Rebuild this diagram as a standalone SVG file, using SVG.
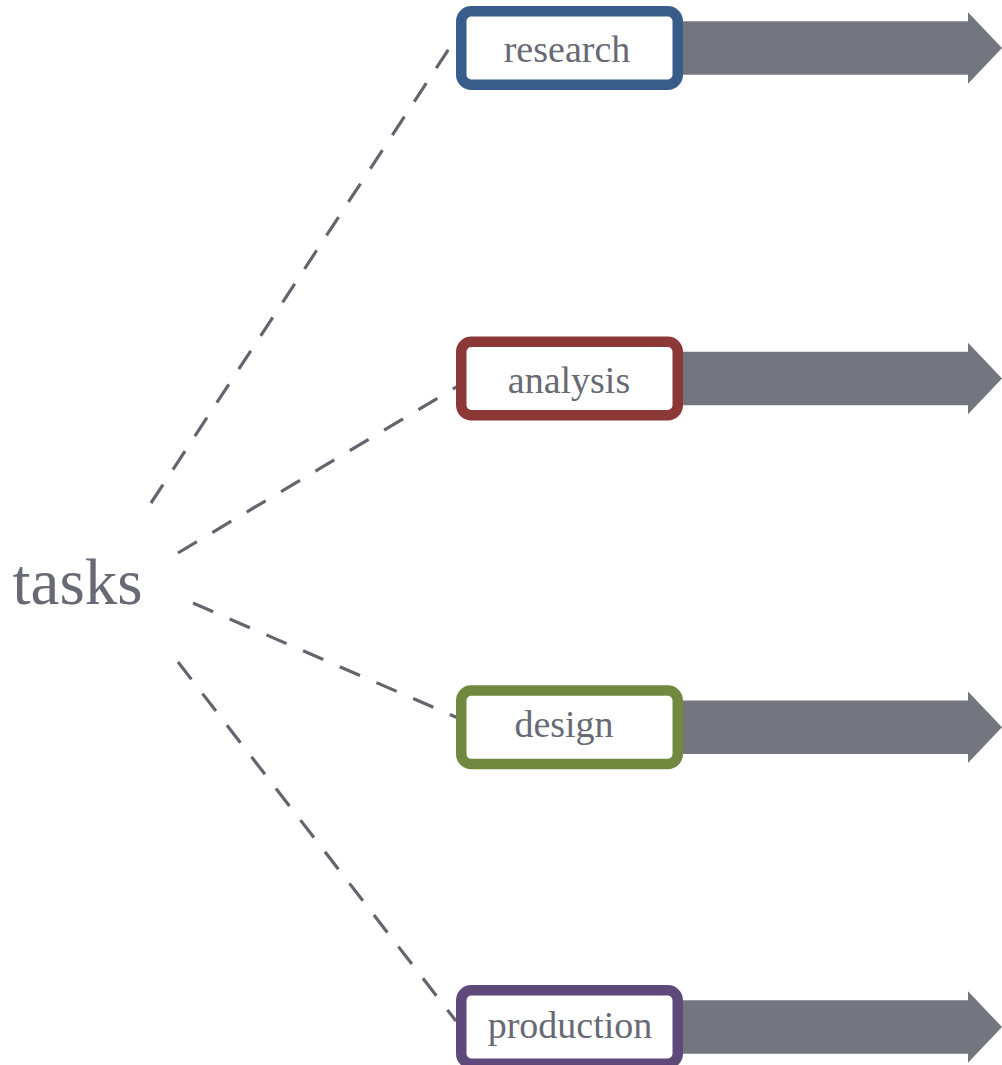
<svg xmlns="http://www.w3.org/2000/svg" width="1002" height="1065" viewBox="0 0 1002 1065">
<style>
.lbl{font-family:"Liberation Serif","Times New Roman",serif;fill:#676a74;text-anchor:middle}
.box{fill:#ffffff;stroke-width:10.5}
.arrow{fill:#73767e}
.dash{stroke:#62656e;stroke-width:3.2;stroke-dasharray:22 18;fill:none}
</style>
<rect width="1002" height="1065" fill="#ffffff"/>
<g id="connectors">
<line class="dash" x1="151" y1="503" x2="456" y2="38"/>
<line class="dash" x1="178" y1="553" x2="458" y2="386"/>
<line class="dash" x1="193" y1="603" x2="458" y2="718"/>
<line class="dash" x1="178" y1="662" x2="456" y2="1021"/>
</g>
<g id="tasks">
<text class="lbl" x="77.5" y="604" font-size="65">tasks</text>
</g>
<g id="research">
<path class="arrow" d="M676,21.3 H968 V12.3 L1002,48 L968,83.7 V74.7 H676 Z"/>
<rect class="box" x="461.25" y="11.25" width="216.5" height="73.5" rx="10" stroke="#385d8a"/>
<text class="lbl" x="567" y="62" font-size="38">research</text>
</g>
<g id="analysis">
<path class="arrow" d="M676,351.8 H968 V342.8 L1002,378.5 L968,414.2 V405.2 H676 Z"/>
<rect class="box" x="461.25" y="341.75" width="216.5" height="73.5" rx="10" stroke="#8c3836"/>
<text class="lbl" x="569" y="393" font-size="38">analysis</text>
</g>
<g id="design">
<path class="arrow" d="M676,700.6 H968 V691.6 L1002,727.3 L968,763 V754 H676 Z"/>
<rect class="box" x="461.25" y="690.55" width="216.5" height="73.5" rx="10" stroke="#71893f"/>
<text class="lbl" x="564" y="737" font-size="38">design</text>
</g>
<g id="production">
<path class="arrow" d="M676,1000.3 H968 V991.3 L1002,1027 L968,1062.7 V1053.7 H676 Z"/>
<rect class="box" x="461.25" y="990.25" width="216.5" height="73.5" rx="10" stroke="#5f497a"/>
<text class="lbl" x="570" y="1038" font-size="38">production</text>
</g>
</svg>
